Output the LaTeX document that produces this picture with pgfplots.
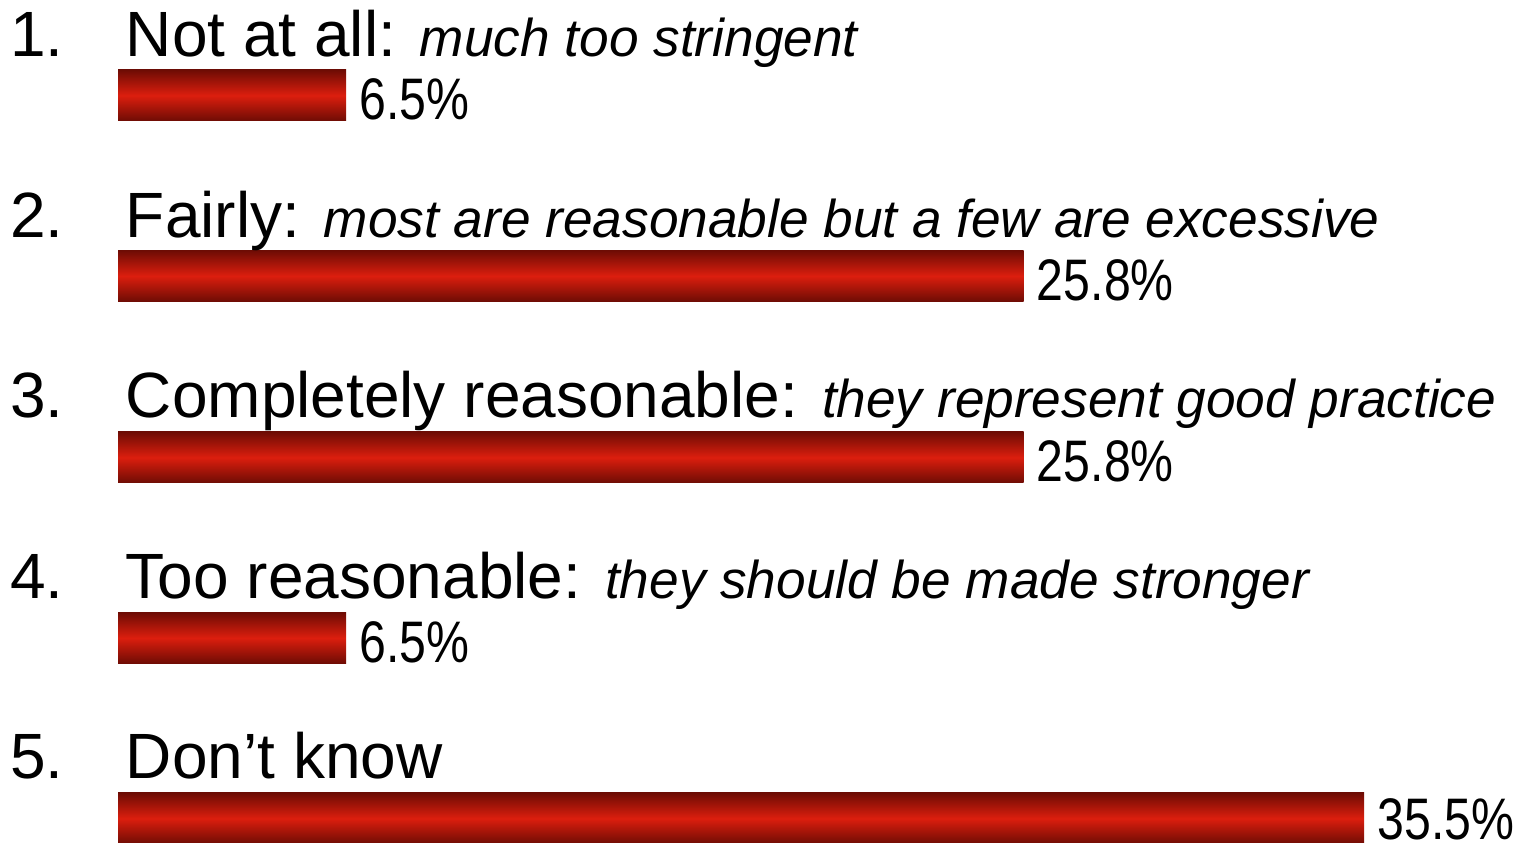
\documentclass[border=0pt]{standalone}
\usepackage{pgfplots}
\pgfplotsset{compat=1.18}
\usepackage{fontspec}
\setmainfont{Liberation Sans}
\definecolor{bardark}{RGB}{110,12,4}
\definecolor{barmid}{RGB}{220,30,14}
\newcommand\mainsz{\fontsize{32bp}{38bp}\selectfont}
\newcommand\itsz{\fontsize{26.6bp}{32bp}\selectfont\itshape}
\newcommand\valsz{\fontsize{29.3bp}{35bp}\selectfont}
\begin{document}
\begin{tikzpicture}
\begin{axis}[
  scale only axis, width=760bp, height=421.5bp,
  xmin=-3.362, xmax=39.943, ymin=0, ymax=843,
  hide axis, clip=false,
  /pgf/number format/assume math mode=true,
  xbar, bar width=25.5bp, bar shift=0pt,
  nodes near coords={\valsz\scalebox{0.823}[1]{\pgfmathprintnumber[fixed,precision=1,fixed zerofill,assume math mode=true]{\pgfplotspointmeta}\%}},
  nodes near coords align=horizontal,
  every node near coord/.append style={anchor=west, inner sep=0pt, xshift=6.5bp, yshift=-2bp, text=black},
  bar style/.style={draw=none, top color=bardark, bottom color=bardark, middle color=barmid},
]
\path[use as bounding box] (rel axis cs:0,0) rectangle (rel axis cs:1,1);
\addplot[bar style] coordinates {(6.5,747.5)};
\addplot[bar style] coordinates {(25.8,567)};
\addplot[bar style] coordinates {(25.8,385.5)};
\addplot[bar style] coordinates {(6.5,205)};
\addplot[bar style, every node near coord/.append style={yshift=1.5bp}] coordinates {(35.5,24.5)};
\begin{scope}[every node/.style={anchor=base west, inner sep=0pt, text=black}]
\node at (axis cs:-3.077,786) {\mainsz 1.};
\node at (axis cs:0.214,786) {\mainsz Not at all: \itsz much too stringent};
\node at (axis cs:-3.077,605.5) {\mainsz 2.};
\node at (axis cs:0.214,605.5) {\mainsz Fairly: \itsz most are reasonable but a few are excessive};
\node at (axis cs:-3.077,425) {\mainsz 3.};
\node at (axis cs:0.214,425) {\mainsz Completely reasonable: \itsz they represent good practice};
\node at (axis cs:-3.077,244.5) {\mainsz 4.};
\node at (axis cs:0.214,244.5) {\mainsz Too reasonable: \itsz they should be made stronger};
\node at (axis cs:-3.077,64) {\mainsz 5.};
\node at (axis cs:0.214,64) {\mainsz Don’t know};
\end{scope}
\end{axis}
\end{tikzpicture}
\end{document}
